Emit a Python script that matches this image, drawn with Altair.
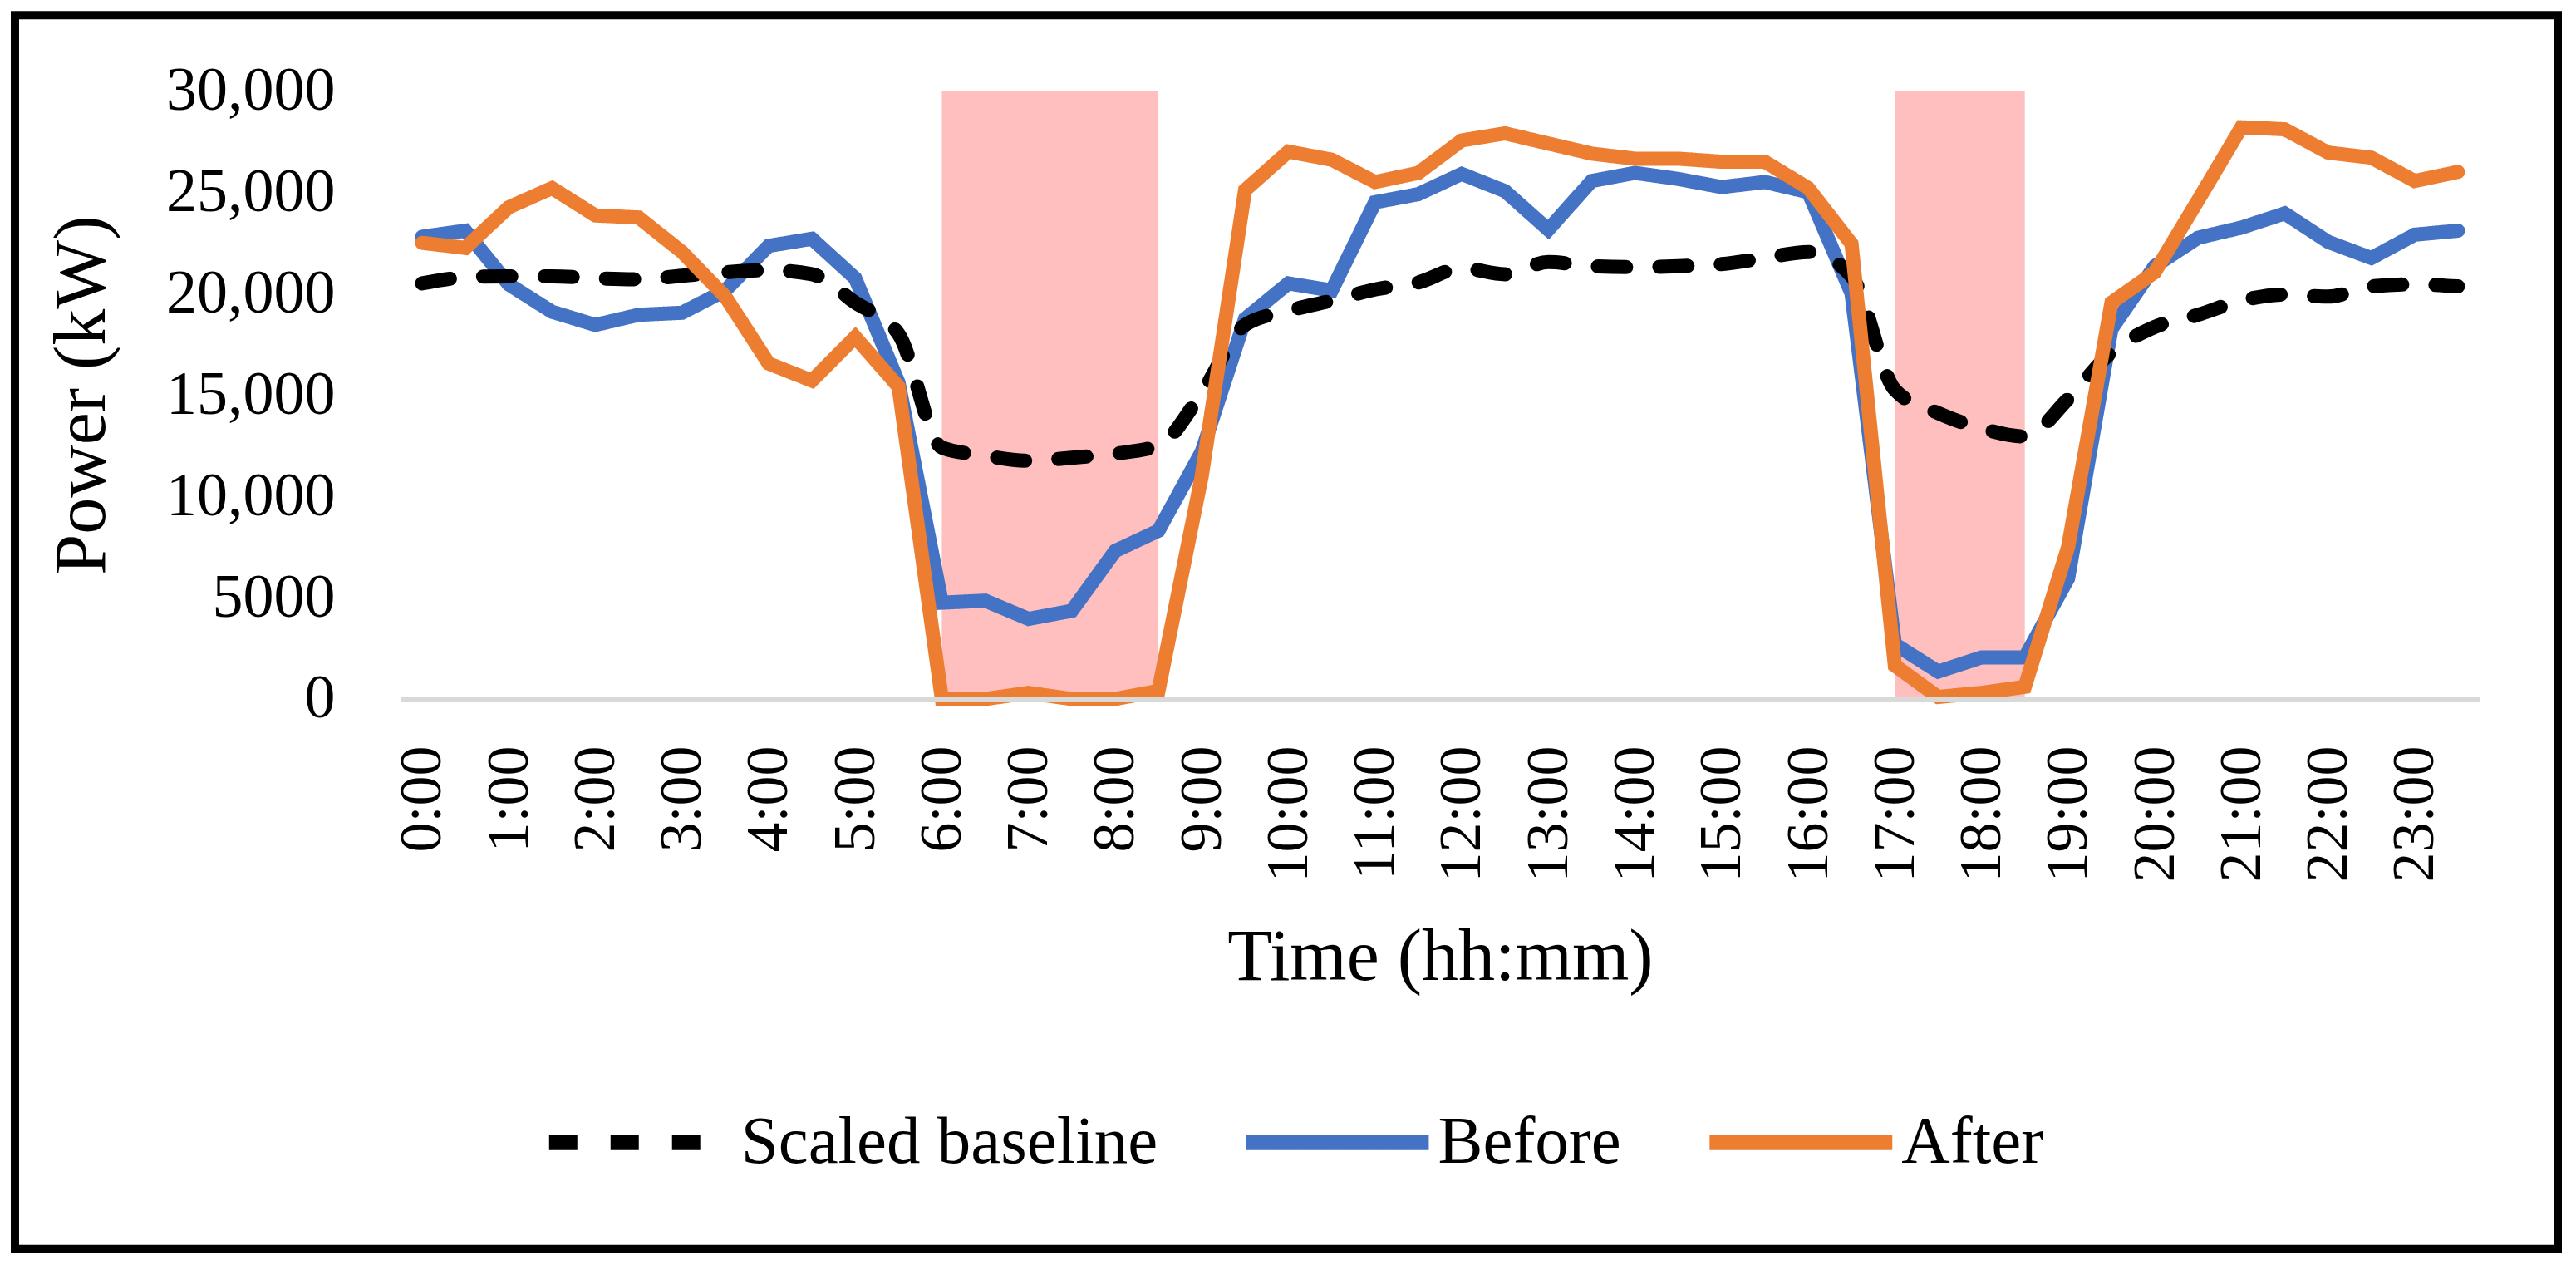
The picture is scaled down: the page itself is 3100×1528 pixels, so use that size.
import altair as alt
import pandas as pd

FONT = "Liberation Serif"

times = ["0:00", "0:30", "1:00", "1:30", "2:00", "2:30", "3:00", "3:30",
         "4:00", "4:30", "5:00", "5:30", "6:00", "6:30", "7:00", "7:30",
         "8:00", "8:30", "9:00", "9:30", "10:00", "10:30", "11:00", "11:30",
         "12:00", "12:30", "13:00", "13:30", "14:00", "14:30", "15:00", "15:30",
         "16:00", "16:30", "17:00", "17:30", "18:00", "18:30", "19:00", "19:30",
         "20:00", "20:30", "21:00", "21:30", "22:00", "22:30", "23:00", "23:30"]
hour_ticks = ["0:00", "1:00", "2:00", "3:00", "4:00", "5:00", "6:00", "7:00",
              "8:00", "9:00", "10:00", "11:00", "12:00", "13:00", "14:00", "15:00",
              "16:00", "17:00", "18:00", "19:00", "20:00", "21:00", "22:00", "23:00"]
y_ticks = [0, 5000, 10000, 15000, 20000, 25000, 30000]

baseline = [20500, 20800, 20850, 20850, 20750, 20700, 20880, 21050, 21150, 20950, 19550, 18000,
            12400, 12000, 11750, 11900, 12100, 12500, 15100, 18450, 19150, 19650, 20200, 20550,
            21250, 20950, 21550, 21350, 21300, 21350, 21450, 21750, 22050, 20850, 15250, 14100,
            13350, 12950, 14800, 17100, 18350, 18950, 19650, 19950, 19850, 20350, 20450, 20350]
before = [22800, 23100, 20450, 19100, 18450, 18950, 19050, 20150, 22350, 22700, 20750, 15600,
          4750, 4850, 3950, 4350, 7300, 8300, 12200, 18750, 20500, 20150, 24500, 24900,
          25900, 25050, 23150, 25550, 25950, 25650, 25250, 25500, 25000, 20000, 2700, 1350,
          2050, 2050, 5950, 18250, 21350, 22750, 23250, 23950, 22550, 21750, 22900, 23100]
after = [22500, 22250, 24250, 25200, 23850, 23750, 22050, 19850, 16550, 15700, 17850, 15400,
         0, 0, 300, 0, 0, 400, 11000, 25100, 27000, 26600, 25500, 25950,
         27550, 27900, 27400, 26900, 26650, 26650, 26500, 26500, 25200, 22450, 1650, 100,
         300, 600, 7500, 19550, 21050, 24600, 28200, 28100, 26950, 26700, 25550, 26000]

series_names = ["Scaled baseline", "Before", "After"]
series_colors = ["#000000", "#4472C4", "#ED7D31"]
series_dash = [[34, 40], [1, 0], [1, 0]]

peak_start = ["6:00", "17:00"]
peak_end = ["8:30", "18:30"]
peak_low = [0, 0]
peak_high = [30000, 30000]

rows = []
for name, vals in zip(series_names, [baseline, before, after]):
    for t, v in zip(times, vals):
        rows.append({"time": t, "series": name, "value": v})
df = pd.DataFrame(rows)
bands = pd.DataFrame({"start": peak_start, "end": peak_end, "lo": peak_low, "hi": peak_high})

x_scale = alt.Scale(type="point", domain=times, padding=0.5)
y_scale = alt.Scale(domain=[0, 30000], nice=False, zero=True)

x_axis = alt.Axis(values=hour_ticks, title="Time (hh:mm)", labelAngle=-90,
                  labelFontSize=72, labelPadding=56, titleFontSize=88, titlePadding=68,
                  domain=True, domainColor="#D9D9D9", domainWidth=7, ticks=False, tickSize=0,
                  labelOverlap=False, grid=False, labelFlush=False, labelLimit=0)
y_axis = alt.Axis(values=y_ticks, title="Power (kW)",
                  labelExpr="datum.value >= 10000 ? format(datum.value, ',') : format(datum.value, 'd')",
                  labelFontSize=74, labelPadding=79, titleFontSize=88,
                  titleX=-338, titleY=366, titleAngle=270, titleAlign="center",
                  titleBaseline="bottom",
                  domain=False, ticks=False, tickSize=0, grid=False, labelLimit=0)

legend = alt.Legend(orient="none", legendX=170, legendY=1147, direction="horizontal",
                    symbolType="stroke", symbolSize=48400, symbolStrokeWidth=18,
                    labelFont=FONT, labelFontSize=81, labelOffset=2, columnPadding=70,
                    padding=0, labelColor="#000000", labelLimit=0)

color_enc = alt.Color("series:N", title=None,
                      scale=alt.Scale(domain=series_names, range=series_colors), legend=legend)
dash_enc = alt.StrokeDash("series:N", title=None,
                          scale=alt.Scale(domain=series_names, range=series_dash), legend=legend)

band_layer = alt.Chart(bands).mark_rect(color="#FFBFBF").encode(
    x=alt.X("start:O", scale=x_scale, axis=x_axis),
    x2="end:O",
    y=alt.Y("hi:Q", scale=y_scale, axis=y_axis),
    y2="lo:Q",
)


def line_layer(name, **mark_kw):
    return alt.Chart(df).transform_filter(alt.datum.series == name).mark_line(
        strokeWidth=17, strokeCap="round", **mark_kw
    ).encode(
        x=alt.X("time:O", scale=x_scale, axis=x_axis),
        y=alt.Y("value:Q", scale=y_scale, axis=y_axis),
        color=color_enc,
        strokeDash=dash_enc,
    )


before_layer = line_layer("Before")
base_layer = line_layer("Scaled baseline", interpolate="monotone")
after_layer = line_layer("After")

frame = alt.Chart(alt.Data(values=[{"f": 1}])).mark_rect(
    fillOpacity=0, stroke="#000000", strokeWidth=10
).encode(
    x=alt.value(-464), x2=alt.value(2597), y=alt.value(-91), y2=alt.value(1394)
)

chart = alt.layer(band_layer, before_layer, base_layer, after_layer, frame).properties(
    width=2503, height=732,
    padding={"left": 474, "top": 101, "right": 108, "bottom": 672},
    autosize=alt.AutoSizeParams(type="none"),
    background="#FFFFFF",
).configure_view(stroke=None).configure_axis(
    labelFont=FONT, titleFont=FONT, labelColor="#000000", titleColor="#000000",
    titleFontWeight="normal"
)

chart.save("out.html", embed_options={"renderer": "svg", "actions": False})
